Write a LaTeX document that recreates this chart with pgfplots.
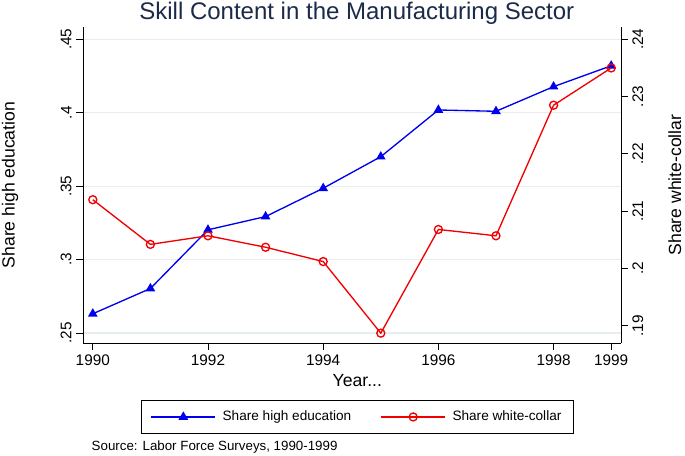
\documentclass[border=0pt]{standalone}
\usepackage{fontspec}
\setmainfont{Liberation Sans}
\usepackage{pgfplots}
\pgfplotsset{compat=1.18}
\definecolor{titlenavy}{HTML}{1C2A4A}
\definecolor{gridc}{HTML}{E6EEF0}
\definecolor{sblue}{HTML}{0000F0}
\definecolor{sred}{HTML}{F00000}

\pgfplotsset{
  common/.style={
    scale only axis, width=403.5pt, height=237pt,
    xmin=1989.83, xmax=1999.17,
    tick align=outside, major tick length=5pt,
    axis line style={black, line width=0.6pt},
    tick style={black, line width=0.6pt},
    tick label style={font=\fontsize{11.5}{13}\selectfont},
    label style={font=\fontsize{13.2}{15}\selectfont},
  }
}

\begin{document}
\begin{tikzpicture}
\path[use as bounding box] (-62.25pt,-84pt) rectangle (451.5pt,257.25pt);

\begin{axis}[common,
  axis y line*=left, axis x line*=bottom,
  ymin=0.2432, ymax=0.4584,
  ytick={0.25,0.3,0.35,0.4,0.45},
  yticklabels={.25,.3,.35,.4,.45},
  yticklabel style={rotate=90, anchor=south},
  xtick={1990,1992,1994,1996,1998,1999},
  xticklabels={1990,1992,1994,1996,1998,1999},
  ymajorgrids, grid style={gridc, line width=1pt},
  xlabel={Year...},
  xlabel style={at={(axis description cs:0.51,-0.12)}, anchor=center},
  ylabel={Share high education},
  ylabel style={at={(axis description cs:-0.1357,0.5)}, anchor=center},
  every axis title shift=0pt,
  title={Skill Content in the Manufacturing Sector},
  title style={at={(axis description cs:0.509,1.0427)}, anchor=center,
    font=\fontsize{18}{21}\selectfont, text=titlenavy},
  legend columns=2,
  legend cell align=left,
  legend image code/.code={\draw[mark repeat=2,mark phase=2,#1] plot coordinates {(0pt,0pt) (24pt,0pt) (48pt,0pt)};},
  legend style={at={(0.51,-0.234)}, anchor=center, draw=black, line width=0.6pt,
    font=\fontsize{10.2}{12}\selectfont, inner xsep=7pt, inner ysep=6pt,
    /tikz/every odd column/.append style={column sep=3pt},
    /tikz/every even column/.append style={column sep=20pt}},
]
\addplot[sblue, line width=1pt, mark=triangle*, mark size=3.2pt] coordinates {
  (1990,0.2631) (1991,0.2803) (1992,0.3203) (1993,0.3293) (1994,0.3486)
  (1995,0.3701) (1996,0.4019) (1997,0.4010) (1998,0.4178) (1999,0.4320)};
\addlegendentry{Share high education}
\addlegendimage{sred, line width=1pt, mark=o, mark size=3pt}
\addlegendentry{Share white-collar}
\end{axis}

\begin{axis}[common,
  axis y line*=right, axis x line=none,
  ymin=0.18698, ymax=0.24215,
  ytick={0.19,0.2,0.21,0.22,0.23,0.24},
  yticklabels={.19,.2,.21,.22,.23,.24},
  yticklabel style={rotate=90, anchor=north},
  ylabel={Share white-collar},
  ylabel style={at={(axis description cs:1.100,0.5)}, anchor=center},
]
\addplot[sred, line width=1pt, mark=o, mark size=3pt, mark options={line width=1pt}] coordinates {
  (1990,0.2120) (1991,0.2042) (1992,0.2057) (1993,0.2037) (1994,0.2012)
  (1995,0.1887) (1996,0.2068) (1997,0.2057) (1998,0.2285) (1999,0.2350)};
\end{axis}

\node[anchor=west, font=\fontsize{10}{12}\selectfont] at (3pt,-78pt) {Source: Labor Force Surveys, 1990-1999};
\end{tikzpicture}
\end{document}
